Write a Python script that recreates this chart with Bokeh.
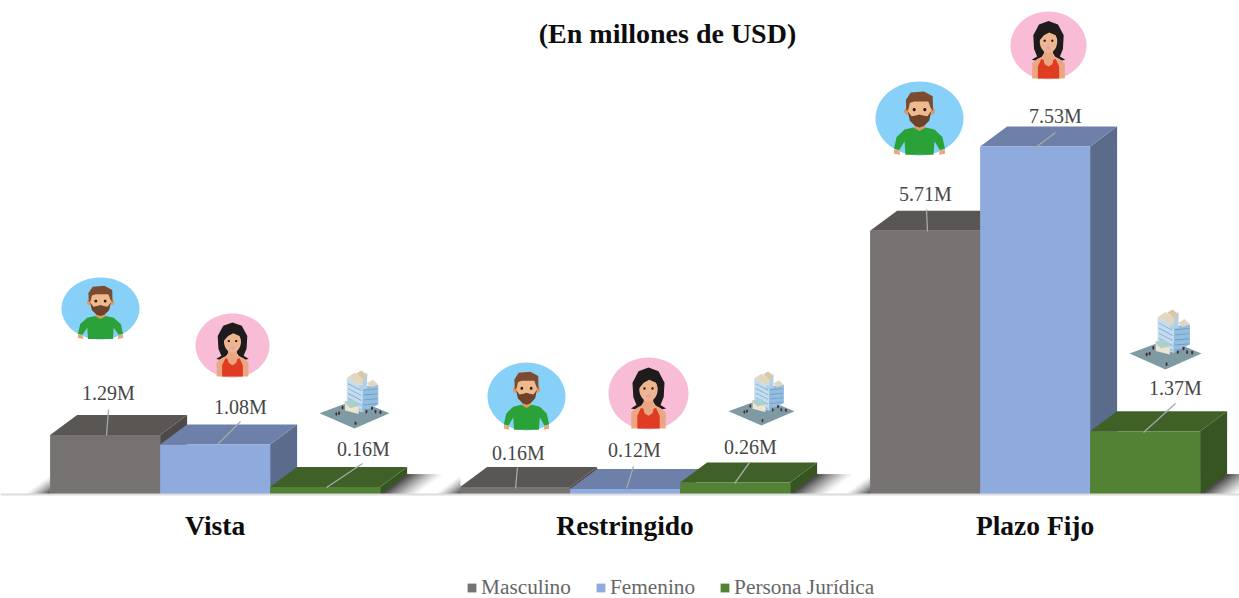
import numpy as np
from bokeh.core.properties import value
from bokeh.embed import file_html
from bokeh.models import ColumnDataSource, FixedTicker, Label, Legend, LegendItem, Range1d
from bokeh.plotting import figure
from bokeh.resources import INLINE

# ---------- data ----------
categories = ["Vista", "Restringido", "Plazo Fijo"]
masculino = [1.29, 0.16, 5.71]
femenino = [1.08, 0.12, 7.53]
juridica = [0.16, 0.26, 1.37]
series_names = ["Masculino", "Femenino", "Persona Jurídica"]

# ---------- layout (pixels of the page) ----------
W, H = 1239, 598
BASE_PY = 494
GROUP0_PX = 214.6
GROUP_STEP = 410
BAR_PX = 110
PX_PER_M = 46.2
DEPTH_X, DEPTH_Y = 27, 20
FONT = "Liberation Serif"

def X(px):
    return (px - GROUP0_PX) / GROUP_STEP
def Y(py):
    return (BASE_PY - py) / PX_PER_M
DX = DEPTH_X / GROUP_STEP
DY = DEPTH_Y / PX_PER_M
BW = BAR_PX / GROUP_STEP

p = figure(width=W, height=H, output_backend="svg", toolbar_location=None,
           x_range=Range1d(X(0), X(W)),
           y_range=Range1d(Y(H), Y(0)),
           min_border_left=0, min_border_right=0, min_border_top=0, min_border_bottom=0)
p.outline_line_color = None
p.grid.visible = False
p.yaxis.visible = False
p.background_fill_color = "white"

ax = p.xaxis[0]
ax.fixed_location = 0
ax.ticker = FixedTicker(ticks=[0, 1, 2])
ax.major_label_overrides = {i: c for i, c in enumerate(categories)}
ax.major_tick_line_color = None
ax.minor_tick_line_color = None
ax.axis_line_color = "#dcdcdc"
ax.axis_line_width = 2
ax.major_label_text_font = FONT
ax.major_label_text_font_style = "bold"
ax.major_label_text_font_size = "27.5px"
ax.major_label_text_color = "#0d0d0d"
ax.major_label_standoff = 9

# ---------- floor shadows ----------
shadow_xs, shadow_ys, shadow_cs = [], [], []
def shade(k):
    v = int(255 - (255 - 62) * (1 - k) ** 1.25)
    return f"#{v:02x}{v:02x}{v:02x}"
for g in range(3):
    right_px = GROUP0_PX + GROUP_STEP * g + 1.5 * BAR_PX
    left_px = right_px - 3 * BAR_PX
    for k in np.linspace(1, 0.04, 22):
        w = 38 * k
        shadow_xs.append([X(right_px), X(right_px + DEPTH_X), X(right_px + DEPTH_X + w), X(right_px + w)])
        shadow_ys.append([Y(BASE_PY), Y(BASE_PY - DEPTH_Y), Y(BASE_PY - DEPTH_Y), Y(BASE_PY)])
        shadow_cs.append(shade(k))
    for k in np.linspace(1, 0.04, 22):
        shadow_xs.append([X(left_px), X(left_px - DEPTH_X * k), X(left_px)])
        shadow_ys.append([Y(BASE_PY), Y(BASE_PY), Y(BASE_PY - DEPTH_Y * k)])
        shadow_cs.append(shade(k))
p.patches(shadow_xs, shadow_ys, fill_color=shadow_cs, line_color=None)

# ---------- 3-D bars ----------
palette = [("#767271", "#5a5654", "#4e4a49"),
           ("#8faadc", "#6c80a9", "#5b6b8c"),
           ("#548235", "#3f6127", "#375522")]
items = []
for s, vals in enumerate([masculino, femenino, juridica]):
    front, top, side = palette[s]
    xc = [i + (s - 1) * BW for i in range(3)]
    src = ColumnDataSource(dict(x=xc, top=vals))
    # the bars of a group are painted left to right so later ones cover earlier sides
    top_x = [[x - BW / 2, x + BW / 2, x + BW / 2 + DX, x - BW / 2 + DX] for x in xc]
    top_y = [[v, v, v + DY, v + DY] for v in vals]
    side_x = [[x + BW / 2, x + BW / 2 + DX, x + BW / 2 + DX, x + BW / 2] for x in xc]
    side_y = [[0, DY, v + DY, v] for v in vals]
    p.patches(side_x, side_y, fill_color=side, line_color=None)
    p.patches(top_x, top_y, fill_color=top, line_color=None)
    r = p.vbar("x", BW, "top", 0, source=src, fill_color=front, line_color=None)
    items.append(LegendItem(label=series_names[s], renderers=[r]))

# ---------- leader lines and data labels ----------
label_text = ["1.29M", "1.08M", "0.16M", "0.16M", "0.12M", "0.26M", "5.71M", "7.53M", "1.37M"]
label_px = [(108, 392), (240, 406), (363, 448), (518, 452), (634, 449), (750, 446),
            (925, 193), (1055, 115), (1175, 387)]
leaders_px = [((108, 409), (106, 435)), ((240, 421), (217, 444)), ((362, 463), (326, 487)),
              ((517, 467), (515, 488)), ((633, 466), (626, 488)), ((749, 462), (734, 483)),
              ((926, 209), (927, 231)), ((1055, 132), (1035, 147)), ((1175, 403), (1143, 432))]
p.multi_line([[X(a[0]), X(b[0])] for a, b in leaders_px],
             [[Y(a[1]), Y(b[1])] for a, b in leaders_px],
             line_color="#a8a8a8", line_width=1.3)
p.text(x=[X(a) for a, _ in label_px], y=[Y(b) for _, b in label_px], text=label_text,
       text_font=value(FONT), text_font_size="20px", text_color="#464646",
       text_align="center", text_baseline="middle")

# ---------- icons ----------
polys = []
def add(pts, color, box):
    cx, cy, rx, ry = box
    polys.append(([X(cx + u * rx) for u, v in pts], [Y(cy - v * ry) for u, v in pts], color))
def oval(u0, v0, a, b, n=40):
    t = np.linspace(0, 2 * np.pi, n, endpoint=False)
    return list(zip(u0 + a * np.cos(t), v0 + b * np.sin(t)))

def man(box):
    add(oval(0, 0, 1, 1, 72), "#87d1f8", box)
    add([(-.58, -.84), (-.46, -.86), (-.44, -.98), (-.58, -.95)], "#e6a97f", box)
    add([(.58, -.84), (.46, -.86), (.44, -.98), (.58, -.95)], "#e6a97f", box)
    add([(-.12, .05), (.12, .05), (.12, -.35), (-.12, -.35)], "#d99b6e", box)
    add([(-.14, -.24), (0, -.34), (.14, -.24), (.34, -.3), (.52, -.5), (.58, -.82), (.46, -.85), (.34, -.62),
         (.32, -.98), (-.32, -.98), (-.34, -.62), (-.46, -.85), (-.58, -.82), (-.52, -.5), (-.34, -.3)],
        "#2aa238", box)
    add(oval(-.29, .2, .06, .09), "#d99b6e", box)
    add(oval(.29, .2, .06, .09), "#d99b6e", box)
    add(oval(0, .2, .26, .38), "#eeb98d", box)
    add([(-.3, .2), (-.31, .5), (-.2, .7), (.1, .73), (.3, .6), (.31, .2), (.25, .3), (.2, .46), (-.12, .46), (-.22, .42), (-.25, .25)],
        "#7b4c2f", box)
    add([(-.27, .2), (-.22, -.06), (-.1, -.2), (0, -.24), (.1, -.2), (.22, -.06), (.27, .2), (.18, .06), (.08, .08), (0, .11), (-.08, .08), (-.18, .06)],
        "#6e432a", box)
    add(oval(-.12, .24, .035, .045), "#2b1a12", box)
    add(oval(.12, .24, .035, .045), "#2b1a12", box)

def woman(box):
    add(oval(0, 0, 1, 1, 72), "#f8bcd7", box)
    add([(0, .72), (-.25, .62), (-.4, .3), (-.38, -.1), (-.3, -.32), (-.44, -.42), (-.25, -.46), (-.1, -.2),
         (.1, -.2), (.25, -.46), (.44, -.42), (.3, -.32), (.38, -.1), (.4, .3), (.25, .62)], "#1f1a1b", box)
    add([(-.43, -.97), (-.43, -.52), (-.3, -.4), (-.12, -.3), (-.12, -.1), (.12, -.1), (.12, -.3), (.3, -.4), (.43, -.52), (.43, -.97)],
        "#eaa782", box)
    add([(-.28, -.97), (-.28, -.62), (-.19, -.4), (-.13, -.42), (-.1, -.55), (0, -.62), (.1, -.55), (.13, -.42), (.19, -.4), (.28, -.62), (.28, -.97)],
        "#e03b23", box)
    add(oval(0, .12, .23, .34), "#eeb690", box)
    add([(-.27, .1), (-.22, .42), (0, .52), (.22, .42), (.27, .1), (.19, .3), (.02, .38), (-.12, .3)], "#1f1a1b", box)
    add(oval(-.1, .14, .03, .035), "#2b1a12", box)
    add(oval(.1, .14, .03, .035), "#2b1a12", box)
    add(oval(0, -.07, .06, .045), "#e89fb5", box)

def building(box):
    # square, faces of the tower, roofs, window bands, lobby, people
    add([(-1, -.47), (0, -1), (1, -.47), (.05, 0)], "#7e9aa3", box)
    add([(-.22, .74), (.23, .45), (.23, -.45), (-.22, -.23)], "#c3dcf0", box)
    add([(.23, .45), (.68, .5), (.68, -.17), (.23, -.45)], "#94bedf", box)
    add([(.14, .72), (.36, .92), (.36, .38), (.14, .34)], "#b0d0ea", box)
    add([(-.22, .74), (.0, .92), (.24, .72), (.23, .45)], "#e3d6bf", box)
    add([(.05, .9), (.2, 1), (.38, .82), (.24, .7)], "#d9c8a8", box)
    add([(.35, .55), (.52, .68), (.68, .52), (.48, .42)], "#e3d6bf", box)
    for i in range(5):
        v = .56 - i * .17
        add([(-.18, v), (.2, v - .24), (.2, v - .27), (-.18, v - .03)], "#7fa9cc", box)
        add([(.26, v - .22), (.65, v - .18), (.65, v - .21), (.26, v - .25)], "#6f9bc0", box)
    add([(-.27, -.12), (.12, -.28), (.12, -.5), (-.27, -.38)], "#efe4cf", box)
    add([(-.3, -.08), (-.04, .0), (.16, -.2), (-.12, -.3)], "#a9d0cc", box)
    for u, v in [(-.52, -.5), (-.44, -.47), (.34, -.42), (.6, -.42), (.74, -.44), (.03, -.82), (-.34, -.28), (.5, -.3)]:
        add(oval(u, v, .028, .065, 10), "#4b2d33", box)

man_boxes = [(100, 308, 39, 31), (526, 396, 39, 34), (919, 118, 44, 37)]
woman_boxes = [(232, 345, 37, 32), (648, 393, 40, 36), (1048, 45, 38, 34)]
building_boxes = [(354, 399, 35, 29), (761, 398, 33, 27), (1165, 339, 36, 30)]
for b in man_boxes:
    man(b)
for b in woman_boxes:
    woman(b)
for b in building_boxes:
    building(b)
p.patches([q[0] for q in polys], [q[1] for q in polys], fill_color=[q[2] for q in polys], line_color=None)

# ---------- title ----------
p.add_layout(Label(x=X(667), y=Y(33), text="(En millones de USD)", text_font=FONT,
                   text_font_style="bold", text_font_size="28px", text_color="#0d0d0d",
                   text_align="center", text_baseline="middle"))

# ---------- legend ----------
legend = Legend(items=items, orientation="horizontal", location=(466, -2),
                label_text_font=FONT, label_text_font_size="21.3px", label_text_color="#666666",
                glyph_width=11, glyph_height=11, label_standoff=4, spacing=24,
                border_line_color=None, background_fill_alpha=0, padding=0, margin=0,
                label_height=20)
p.add_layout(legend)

open("out.html", "w").write(file_html(p, INLINE))
